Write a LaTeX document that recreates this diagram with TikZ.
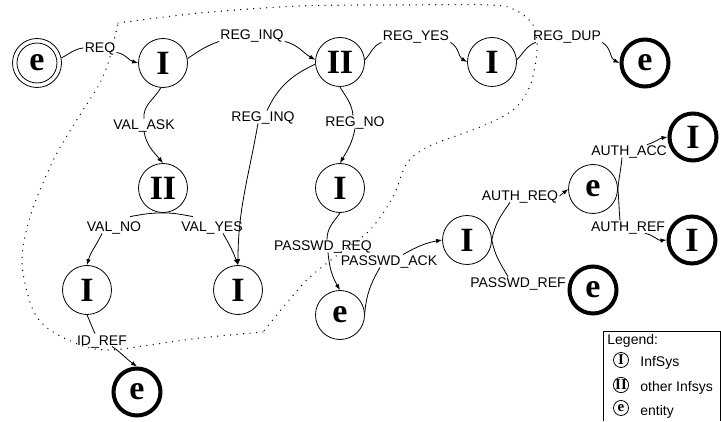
\documentclass[tikz,border=0pt]{standalone}
\usepackage{fontspec}
\setmainfont{Liberation Sans}
\newfontfamily\nodeserif{Liberation Serif}
\usetikzlibrary{arrows.meta}
\begin{document}
\begin{tikzpicture}[x=1pt,y=1pt,line width=0.8pt,
  state/.style={circle,draw,line width=0.8pt,minimum size=49pt,inner sep=0pt,font=\nodeserif\bfseries\fontsize{34}{34}\selectfont},
  final/.style={state,line width=4pt,minimum size=47pt},
  lbl/.style={font=\fontsize{14}{16}\selectfont,inner sep=1pt,text height=10pt,text depth=0pt},
  arr/.style={-{Latex[length=6pt,width=4.5pt]}},
  bound/.style={line width=1.4pt,line cap=round,dash pattern=on 0pt off 6.5pt},
  legc/.style={circle,draw,line width=0.8pt,minimum size=15pt,inner sep=0pt,font=\nodeserif\bfseries\fontsize{15}{15}\selectfont},
  legt/.style={font=\fontsize{14}{16}\selectfont,inner sep=0pt,anchor=west,text height=10pt,text depth=0pt}
]
\useasboundingbox (0,0) rectangle (721,421);

% boundary (dotted)
\draw[bound] plot[smooth,tension=0.55] coordinates {(118,398) (200,408) (300,415) (400,416) (490,416) (515,411) (533,396) (537,371) (530,335) (513,311) (480,294) (430,275) (407,258) (393,224) (370,191) (340,168) (310,144) (290,122) (263,89)};
\draw[bound] plot[smooth,tension=0.55] coordinates {(263,89) (200,83) (150,76) (110,71) (83,75) (50,91) (33,111) (23,148) (23,174) (30,204) (40,231) (57,268) (83,311) (100,338) (110,364) (118,398)};

% states
\node[state] (e0) at (37,358) {e};
\draw (e0) circle[radius=20pt];
\node[state] (I1) at (163,358) {I};
\node[state] (II1) at (340,359) {II};
\node[state] (I2) at (492,359) {I};
\node[final] (eDUP) at (645,358) {e};
\node[state] (II2) at (163,233) {II};
\node[state] (I3) at (87,131) {I};
\node[state] (I4) at (238,131) {I};
\node[final] (eID) at (137,29) {e};
\node[state] (I5) at (340,233) {I};
\node[state] (eP) at (340,106) {e};
\node[state] (I6) at (467,181) {I};
\node[state] (eA) at (593,232) {e};
\node[final] (IACC) at (693,284) {I};
\node[final] (IREF) at (692,181) {I};
\node[final] (ePR) at (593,131) {e};

% labels
\node[lbl] (lREQ) at (100,373) {REQ};
\node[lbl] (lRI1) at (252,386) {REG\_INQ};
\node[lbl] (lVA) at (144,296) {VAL\_ASK};
\node[lbl] (lRI2) at (263,304) {REG\_INQ};
\node[lbl] (lRY) at (416,385) {REG\_YES};
\node[lbl] (lRD) at (567,385) {REG\_DUP};
\node[lbl] (lRN) at (355,299) {REG\_NO};
\node[lbl] (lVN) at (114,194) {VAL\_NO};
\node[lbl] (lVY) at (212,194) {VAL\_YES};
\node[lbl] (lPRQ) at (323,175) {PASSWD\_REQ};
\node[lbl] (lPA) at (389,160) {PASSWD\_ACK};
\node[lbl] (lAR) at (520,225) {AUTH\_REQ};
\node[lbl] (lPRF) at (518,138) {PASSWD\_REF};
\node[lbl] (lAA) at (629,270) {AUTH\_ACC};
\node[lbl] (lAF) at (628,194) {AUTH\_REF};
\node[lbl] (lID) at (102,81) {ID\_REF};

% connectors
\draw (e0.12) to[out=25,in=185] (lREQ.west);
\draw[arr] (lREQ.-15) to[out=-10,in=165] (I1.west);
\draw (I1.10) to[out=35,in=200] (lRI1.south west);
\draw[arr] (lRI1.south east) to[out=-15,in=150] (II1.175);
\draw (II1.185) to[out=205,in=65] ([xshift=4pt]lRI2.north);
\draw[arr] ([xshift=-5pt]lRI2.south) to[out=-100,in=90] (I4.north);
\draw (I1.-95) to[out=-120,in=95] (lVA.north);
\draw[arr] (lVA.south) to[out=-80,in=130] (II2.north);
\draw (II2.south) to[out=180,in=10] ([shift={(-12.6pt,4pt)}]lVN.north east);
\draw (II2.south) to[out=0,in=170] ([shift={(13pt,4pt)}]lVY.north west);
\draw[arr] ([xshift=-12pt]lVN.south) to[out=-115,in=75] (I3.north);
\draw[arr] ([xshift=11pt]lVY.south) to[out=-60,in=110] (I4.north);
\draw (II1.5) to[out=45,in=200] (lRY.south west);
\draw[arr] (lRY.south east) to[out=-30,in=150] (I2.west);
\draw (I2.5) to[out=45,in=200] ([xshift=4pt]lRD.south west);
\draw[arr] (lRD.south east) to[out=-30,in=155] (eDUP.west);
\draw (II1.-90) to[out=-60,in=95] ([xshift=-2pt]lRN.north);
\draw[arr] (lRN.south) to[out=-100,in=60] (I5.north);
\draw (I5.-90) to[out=-125,in=90] ([xshift=4pt]lPRQ.north);
\draw[arr] ([xshift=5pt]lPRQ.south) to[out=-85,in=120] (eP.north);
\draw (eP.5) to[out=85,in=-120] ([xshift=-9pt]lPA.south);
\draw[arr] ([xshift=14pt]lPA.north) to[out=30,in=190] (I6.west);
\draw (I6.east) to[out=80,in=-125] ([xshift=-10pt]lAR.south);
\draw[arr] (lAR.east) -- (eA.west);
\draw (I6.east) to[out=-80,in=120] ([xshift=-10pt]lPRF.north);
\draw (eA.east) to[out=85,in=-95] ([xshift=-7pt]lAA.south);
\draw (eA.east) to[out=-85,in=95] ([xshift=-8pt]lAF.north);
\draw[arr] ([xshift=18pt]lAA.north) to[out=15,in=190] (IACC.west);
\draw[arr] ([xshift=17pt]lAF.south) to[out=-10,in=185] (IREF.west);
\draw (I3.south) to[out=-65,in=115] ([xshift=-7pt]lID.north);
\draw[arr] ([xshift=10pt]lID.south) to[out=-35,in=145] (eID.north);

% legend
\draw (603,0) -- (603,90) -- (720,90) -- (720,0);
\node[legt] (lg) at (607,82) {Legend:};
\node[legc] (k1) at (621,61) {I};
\node[legt] (k1t) at (640,60) {InfSys};
\node[legc] (k2) at (621,36) {II};
\node[legt] (k2t) at (640,35) {other Infsys};
\node[legc] (k3) at (621,13) {e};
\node[legt] (k3t) at (640,11) {entity};
\end{tikzpicture}
\end{document}
